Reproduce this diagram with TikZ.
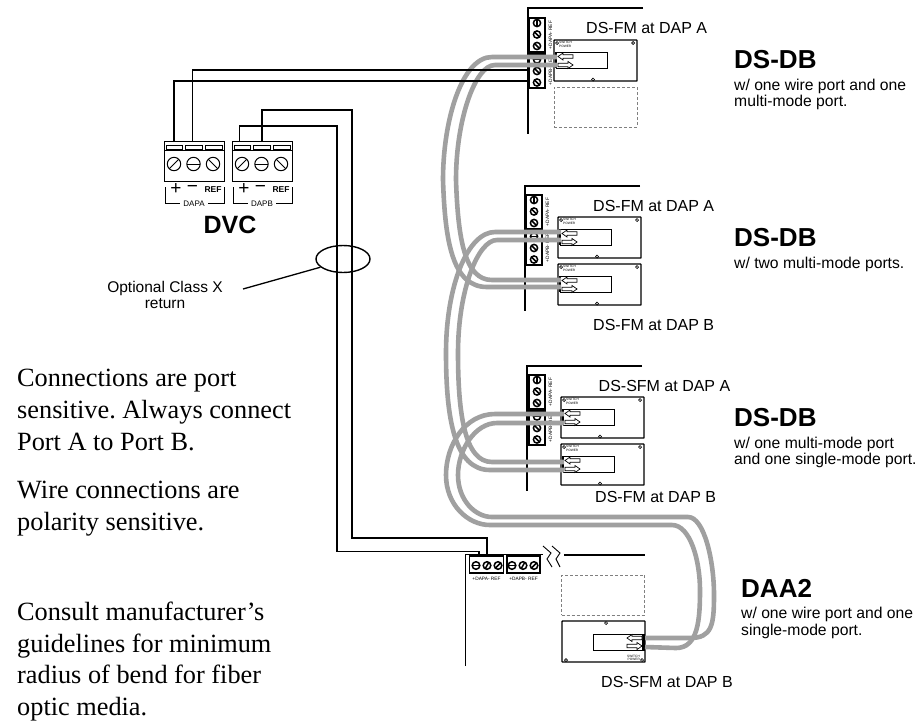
\documentclass[tikz,border=0pt]{standalone}
\usepackage{fontspec}
\setmainfont{Liberation Serif}
\newfontfamily\arialf{Liberation Sans}
\usetikzlibrary{shapes.geometric}
\definecolor{fibergray}{HTML}{A0A0A0}
\newcommand{\fs}[1]{\fontsize{#1}{#1}\selectfont}
\frenchspacing
\tikzset{
 x=1pt,y=-1pt,
 wire/.style={line width=1.3pt,black},
 fiber/.style={line width=4.6pt,fibergray},
 panelline/.style={line width=1.4pt,black},
 modbox/.style={draw,line width=1.4pt,minimum width=83pt,minimum height=41pt,inner sep=0pt,rounded corners=0.5pt},
 inbox/.style={draw,line width=0.8pt,minimum width=51pt,minimum height=16pt,inner sep=0pt},
 tb/.style={draw,line width=1.2pt,inner sep=0pt},
 dashbox/.style={draw=gray,line width=0.6pt,densely dashed,inner sep=0pt,minimum width=83pt,minimum height=40pt},
 label/.style={font=\arialf\fs{16},anchor=base west,inner sep=0pt},
 head/.style={font=\arialf\bfseries\fs{26},anchor=base west,inner sep=0pt},
 note/.style={font=\arialf\fs{15.7},anchor=base west,inner sep=0pt},
 serif/.style={font=\fs{26.3},anchor=base west,inner sep=0pt},
 tiny/.style={font=\arialf\fs{4.8},inner sep=0pt},
 micro/.style={font=\arialf\fs{3.2},inner sep=0pt,align=left,anchor=north west},
}
\newcommand{\screw}[5]{%
 \draw[line width=#5pt] (#1,#2) circle[radius=#3];
 \draw[line width=#5pt] (#1,#2)+(#4:#3) -- +(#4+180:#3);}
\newcommand{\arrl}[2]{\draw[line width=0.7pt,fill=white] (#1,#2) -- ++(5,-3.5) -- ++(0,1.7) -- ++(10,0) -- ++(0,3.6) -- ++(-10,0) -- ++(0,1.7) -- cycle;}
\newcommand{\arrr}[2]{\draw[line width=0.7pt,fill=white] (#1,#2) -- ++(-5,-3.5) -- ++(0,1.7) -- ++(-10,0) -- ++(0,3.6) -- ++(10,0) -- ++(0,1.7) -- cycle;}
\newcommand{\fmodule}[3]{%
 \node[modbox] (#1) at (#2+41.5,#3+20.5) {};
 \node[inbox] (#1in) at (#2+27.5,#3+20) {};
 \draw[line width=0.7pt,fill=white] (#2+3,#3+3) circle[radius=1.5];
 \draw[line width=0.7pt,fill=white] (#2+79,#3+3) circle[radius=1.5];
 \draw[line width=0.7pt,fill=white] (#2+39,#3+39.5) circle[radius=1.5];
 \node[micro] at (#2+5,#3+1.5) {SWITCH\\POWER};
 \fill (#2+1,#3+12) rectangle (#2+3,#3+28);
 \arrl{#2+4}{#3+16.5}
 \arrr{#2+19}{#3+25}
}
\newcommand{\vtb}[3]{%
 \node[tb,minimum width=16pt,minimum height=34pt] at (#1+8,#2+17) {};
 \node[tb,minimum width=16pt,minimum height=34pt] at (#1+8,#2+53) {};
 \screw{#1+8}{#2+5}{3.6}{90}{1.5}
 \screw{#1+8}{#2+16.5}{3.6}{45}{1.5}
 \screw{#1+8}{#2+28}{3.6}{45}{1.5}
 \screw{#1+8}{#2+41.5}{3.6}{0}{1.5}
 \screw{#1+8}{#2+53}{3.6}{45}{1.5}
 \screw{#1+8}{#2+64.5}{3.6}{45}{1.5}
 \node[tiny,rotate=90] at (#1+21.5,#2+17) {+DAPA- REF};
 \node[tiny,rotate=90] at (#1+21.5,#2+53) {+DAPB- REF};
}
\newcommand{\dvcblock}[3]{%
 \node[draw,line width=0.9pt,minimum width=60pt,minimum height=40pt,inner sep=0pt] (#1) at (#2+30,161) {};
 \draw[line width=1.6pt] (#2,150.5) -- (#2+60,150.5);
 \draw[line width=0.7pt] (#2+2,145) rectangle (#2+18,149) (#2+21,145) rectangle (#2+38,149) (#2+41,145) rectangle (#2+58,149);
 \screw{#2+10}{164}{6.7}{-45}{1}
 \screw{#2+29.5}{164}{6.7}{0}{1}
 \screw{#2+49}{164}{6.7}{45}{1}
 \draw[line width=0.9pt] (#2+1,187) |- (#2+16,203) (#2+44,203) -| (#2+60,187);
 \node[font=\arialf\fs{8},inner sep=0pt] at (#2+30,203.5) {#3};
 \node[font=\arialf\fs{19},inner sep=0pt] at (#2+12,189) {+};
 \node[font=\arialf\fs{19},inner sep=0pt] at (#2+28.5,189) {\char"2212};
 \node[font=\arialf\bfseries\fs{8.5},inner sep=0pt] at (#2+49,190) {REF};
}
\begin{document}
\begin{tikzpicture}
\useasboundingbox (0,0) rectangle (920,721);
\fill[white] (0,0) rectangle (920,721);

% panels
\draw[panelline] (643,8) -- (528,8) -- (528,134);
\vtb{529}{18}{}
\node[dashbox] (dash1) at (595.5,107) {};
\draw[panelline] (640,186) -- (525,186) -- (525,311);
\vtb{526}{195}{}
\draw[panelline] (642,366) -- (527,366) -- (527,491);
\vtb{529}{375}{}
\draw[line width=1pt] (465,666) -- (465,554.5) -- (543,554.5);
\node[tb,minimum width=34pt,minimum height=17pt] (tbA) at (486.5,564.5) {};
\node[tb,minimum width=33pt,minimum height=17pt] (tbB) at (523.5,564.5) {};
\screw{476}{565.5}{3.8}{0}{1.5}\screw{487}{565.5}{3.8}{-60}{1.5}\screw{498}{565.5}{3.8}{-45}{1.5}
\screw{512}{565.5}{3.8}{0}{1.5}\screw{523}{565.5}{3.8}{-60}{1.5}\screw{534}{565.5}{3.8}{-45}{1.5}
\node[tiny] at (486.5,579) {+DAPA- REF};
\node[tiny] at (523.5,579) {+DAPB- REF};
\draw[line width=0.9pt] (543,546) -- (551,553) -- (547,559) -- (552,567);
\draw[line width=0.9pt] (552,546) -- (560,553) -- (556,559) -- (560,567);
\draw[line width=1.6pt] (564,555) -- (645,555);
\node[dashbox] (dash4) at (603,595) {};

% modules
\fmodule{m1}{554}{40}
\fmodule{m2}{558}{217}
\fmodule{m3}{558}{264}
\fmodule{m4}{561}{397}
\fmodule{m5}{561}{444}
\node[modbox] (m6) at (603.5,641.5) {};
\node[inbox] (m6in) at (618.5,642.5) {};
\draw[line width=0.7pt,fill=white] (566,660) circle[radius=1.5];
\draw[line width=0.7pt,fill=white] (606,623) circle[radius=1.5];
\draw[line width=0.7pt,fill=white] (642,660) circle[radius=1.5];
\node[micro,align=right,anchor=south east] at (640,661) {SWITCH\\POWER};
\fill (642,635) rectangle (644.5,650);
\arrl{627}{638}
\arrr{642}{646}

% fibre ends
\coordinate (f1o) at (557,57);  \coordinate (f1i) at (557,65);
\coordinate (f3o) at (561,287); \coordinate (f3i) at (561,280);
\coordinate (f2o) at (561,232); \coordinate (f2i) at (561,240);
\coordinate (f5o) at (564,470); \coordinate (f5i) at (564,462);
\coordinate (f4o) at (564,414); \coordinate (f4i) at (564,423);
\coordinate (f6o) at (645,647); \coordinate (f6i) at (645,638);

% fibres
\draw[fiber] (f1o) -- (492,57) .. controls (462,57) and (443,120) .. (443,180) .. controls (445,240) and (452,287) .. (487,287) -- (f3o);
\draw[fiber] (f1i) -- (495,65) .. controls (475,65) and (456,120) .. (456,180) .. controls (458,240) and (465,280) .. (492,280) -- (f3i);
\draw[fiber] (f2o) -- (495,232) .. controls (468,232) and (446,285) .. (446,353) .. controls (446,420) and (455,470) .. (490,470) -- (f5o);
\draw[fiber] (f2i) -- (497,240) .. controls (478,240) and (458,290) .. (458,353) .. controls (458,415) and (465,462) .. (492,462) -- (f5i);
\draw[fiber] (f4o) -- (495,414) .. controls (465,414) and (446,445) .. (446,475) .. controls (446,505) and (468,525) .. (490,525) -- (672,525) .. controls (690,525) and (700,560) .. (700,590) .. controls (700,620) and (698,648) .. (676,648) -- (f6o);
\draw[fiber] (f4i) -- (497,423) .. controls (475,423) and (458,450) .. (458,475) .. controls (458,500) and (475,517) .. (492,517) -- (688,517) .. controls (704,517) and (714,560) .. (714,595) .. controls (714,625) and (712,638) .. (690,638) -- (f6i);

% DVC
\dvcblock{dapa}{164}{DAPA}
\dvcblock{dapb}{232}{DAPB}
\node[font=\arialf\bfseries\fs{25},inner sep=0pt,anchor=base] (dvc) at (230,233) {DVC};

% wires
\coordinate (w1a) at (174,142); \coordinate (w1b) at (530,81);
\coordinate (w2a) at (192.5,142); \coordinate (w2b) at (530,70);
\coordinate (w3a) at (239.5,141); \coordinate (w3c) at (337,126); \coordinate (w3d) at (479,551.5); \coordinate (w3e) at (479,555);
\coordinate (w4a) at (262,141); \coordinate (w4c) at (352,110); \coordinate (w4d) at (487,538); \coordinate (w4e) at (487,555);
\draw[wire] (w1a) |- (w1b);
\draw[wire] (w2a) |- (w2b);
\draw[wire] (w3a) |- (w3c) |- (w3d) -- (w3e);
\draw[wire] (w4a) |- (w4c) |- (w4d) -- (w4e);

% oval
\node[draw,ellipse,line width=1.4pt,minimum width=54pt,minimum height=27pt,inner sep=0pt] (oval) at (343,259) {};
\coordinate (ptr) at (243,289);
\draw[line width=1.3pt] (ptr) -- (oval.200);

% labels
\node[label] at (586,33) {DS-FM at DAP A};
\node[label] at (593,211) {DS-FM at DAP A};
\node[label] at (593,330) {DS-FM at DAP B};
\node[label] at (598.5,391) {DS-SFM at DAP A};
\node[label] at (595,502) {DS-FM at DAP B};
\node[label] at (601,687) {DS-SFM at DAP B};

\node[head] at (734,68) {DS-DB};
\node[note] at (734,90) {w/ one wire port and one};
\node[note] at (734,106) {multi-mode port.};
\node[head] at (734,246) {DS-DB};
\node[note] at (734,268) {w/ two multi-mode ports.};
\node[head] at (734,426) {DS-DB};
\node[note] at (734,448) {w/ one multi-mode port};
\node[note] at (734,464) {and one single-mode port.};
\node[head] at (741,597) {DAA2};
\node[note] at (741,618) {w/ one wire port and one};
\node[note] at (741,635) {single-mode port.};

\node[font=\arialf\fs{15.5},inner sep=0pt,anchor=base] (opt1) at (165,292) {Optional Class X};
\node[font=\arialf\fs{15.5},inner sep=0pt,anchor=base] (opt2) at (165,308) {return};

\node[serif] at (17,386) {Connections are port};
\node[serif] at (17,418) {sensitive. Always connect};
\node[serif] at (17,450) {Port A to Port B.};
\node[serif] at (17,498) {Wire connections are};
\node[serif] at (17,530) {polarity sensitive.};
\node[serif] at (17,620) {Consult manufacturer’s};
\node[serif] at (17,652) {guidelines for minimum};
\node[serif] at (17,683) {radius of bend for fiber};
\node[serif] at (17,715) {optic media.};
\end{tikzpicture}
\end{document}
